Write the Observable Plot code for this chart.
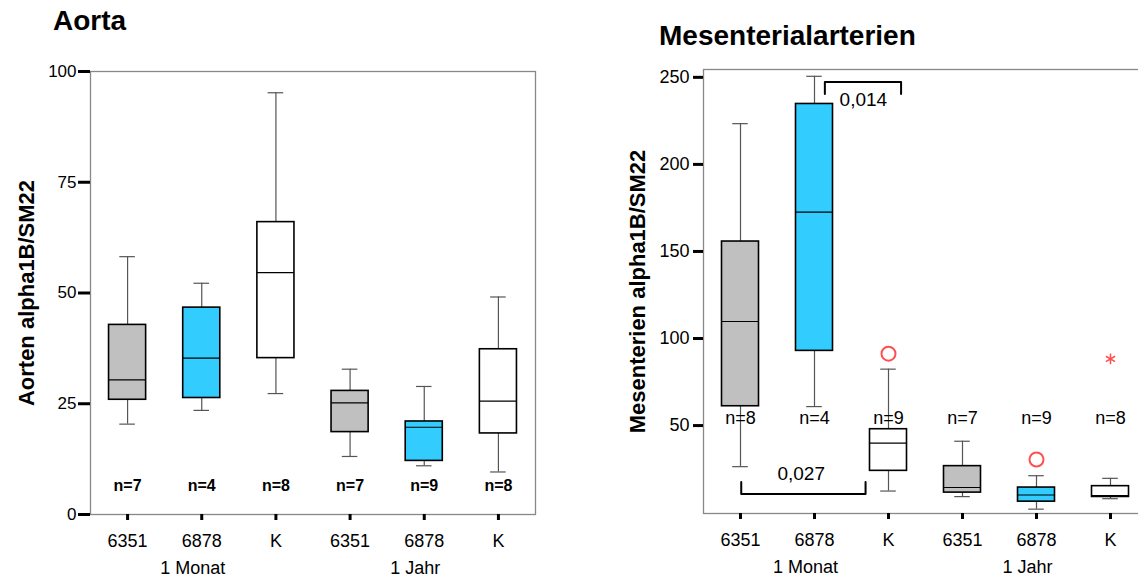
<!DOCTYPE html>
<html><head><meta charset="utf-8">
<script src="https://cdn.jsdelivr.net/npm/d3@7"></script>
<script src="https://cdn.jsdelivr.net/npm/@observablehq/plot@0.6"></script>
<style>
html,body{margin:0;padding:0;background:#fff;overflow:hidden;}
#wrap{position:relative;width:1138px;height:580px;overflow:hidden;font-family:"Liberation Sans",Arial,sans-serif;}
.title{position:absolute;font-weight:bold;font-size:28px;line-height:1;color:#000;white-space:nowrap;}
#left,#right{position:absolute;top:0;height:580px;}
#left{left:0;width:560px}
#right{left:560px;width:600px}
#left svg,#right svg{max-width:none !important;height:580px !important;display:block;}
</style></head><body>
<div id="wrap">
<div id="left"></div><div id="right"></div>
<div class="title" style="left:53px;top:7px">Aorta</div>
<div class="title" style="left:659px;top:22px">Mesenterialarterien</div>
</div>
<script>
// ---- categories ----
const strains = ["6351", "6878", "K", "6351", "6878", "K"];
const periods = ["1 Monat", "1 Jahr"];

// ---- Aorta (box plot statistics) ----
const aortaMin    = [20.4, 23.5, 27.3, 13.1, 11.0,  9.6];
const aortaQ1     = [25.9, 26.3, 35.3, 18.6, 12.1, 18.3];
const aortaMedian = [30.4, 35.3, 54.6, 25.2, 19.7, 25.6];
const aortaQ3     = [42.8, 46.7, 66.0, 27.9, 21.0, 37.3];
const aortaMax    = [58.2, 52.2, 95.2, 32.8, 28.9, 49.1];
const aortaN      = [7, 4, 8, 7, 9, 8];

// ---- Mesenterialarterien ----
const mesMin    = [ 26.4,  60.9, 12.4,  9.2,  2.0,  8.0];
const mesQ1     = [ 61.1,  92.9, 24.0, 11.5,  6.3,  9.0];
const mesMedian = [109.8, 172.6, 39.9, 14.4, 10.1,  9.8];
const mesQ3     = [155.7, 234.7, 47.9, 26.7, 14.4, 15.2];
const mesMax    = [223.4, 250.6, 82.4, 41.0, 21.2, 19.7];
const mesN      = [8, 4, 9, 7, 9, 8];
const mesOutlierGroup = [2, 4];
const mesOutlierValue = [91.3, 30.5];
const mesExtremeGroup = [5];
const mesExtremeValue = [88.3];

// ---- significance annotations (Mesenterialarterien) ----
const sigText  = ["0,014", "0,027"];
const sigFrom  = [1.14, 0.01];
const sigTo    = [2.17, 1.69];
const sigBar   = [247.3, 10.7];
const sigTip   = [240.4, 17.6];
const sigLabelX = [1.66, 0.82];
const sigLabelY = [237.0, 22.4];

const boxFill = {"6351": "#c0c0c0", "6878": "#33ccff", "K": "#ffffff"};
const HALF = 0.25, CAP = 0.105;
const FONT = "'Liberation Sans', Arial, sans-serif";

function rowsOf(mn, q1, md, q3, mx) {
  return strains.map((s, i) => ({i, strain: s, min: mn[i], q1: q1[i], med: md[i], q3: q3[i], max: mx[i]}));
}

function boxMarks(rows) {
  const w = {stroke: "#555", strokeWidth: 1.2};
  return [
    Plot.ruleX(rows, {x: "i", y1: "min", y2: "q1", ...w}),
    Plot.ruleX(rows, {x: "i", y1: "q3", y2: "max", ...w}),
    Plot.ruleY(rows, {y: "min", x1: d => d.i - CAP, x2: d => d.i + CAP, ...w}),
    Plot.ruleY(rows, {y: "max", x1: d => d.i - CAP, x2: d => d.i + CAP, ...w}),
    Plot.rect(rows, {x1: d => d.i - HALF, x2: d => d.i + HALF, y1: "q1", y2: "q3",
      fill: d => boxFill[d.strain], stroke: "#000", strokeWidth: 1.6}),
    Plot.ruleY(rows, {y: "med", x1: d => d.i - HALF, x2: d => d.i + HALF, stroke: "#000", strokeWidth: 1.1})
  ];
}

function xAxisMarks() {
  return [
    Plot.axisX({ticks: [0, 1, 2, 3, 4, 5], tickFormat: i => strains[i], tickSize: 6, tickPadding: 14,
      strokeWidth: 3, stroke: "#000", fill: "#000", fontSize: 18, label: null}),
    Plot.text(periods, {x: (d, k) => k * 3 + 1, frameAnchor: "bottom", dy: 59, dx: -9,
      fontSize: 18, fill: "#000"})
  ];
}

// ---- Left: Aorta ----
const aortaRows = rowsOf(aortaMin, aortaQ1, aortaMedian, aortaQ3, aortaMax);
const left = Plot.plot({
  width: 560, height: 580,
  marginLeft: 90, marginRight: 25, marginTop: 71, marginBottom: 66,
  style: {fontFamily: FONT, background: "transparent", color: "#000", overflow: "visible"},
  x: {domain: [-0.5, 5.5]},
  y: {domain: [0, 100]},
  color: {type: "identity"},
  marks: [
    Plot.frame({stroke: "#888", strokeWidth: 1.3}),
    ...boxMarks(aortaRows),
    Plot.text(aortaN, {x: (d, i) => i, frameAnchor: "bottom", dy: -24, text: d => "n=" + d,
      fontWeight: "bold", fontSize: 16, fill: "#000"}),
    Plot.axisY({ticks: [0, 25, 50, 75, 100], tickSize: 12, tickPadding: 2, strokeWidth: 3,
      stroke: "#000", fill: "#000", fontSize: 17, label: null}),
    ...xAxisMarks(),
    Plot.text(["Aorten alpha1B/SM22"], {frameAnchor: "left", rotate: -90, dx: -64, textAnchor: "middle",
      fontSize: 22, fontWeight: "bold", fill: "#000"})
  ]
});
document.getElementById("left").append(left);

// ---- Right: Mesenterialarterien ----
const mesRows = rowsOf(mesMin, mesQ1, mesMedian, mesQ3, mesMax);
const outliers = mesOutlierGroup.map((g, k) => ({i: g, v: mesOutlierValue[k]}));
const extremes = mesExtremeGroup.map((g, k) => ({i: g, v: mesExtremeValue[k]}));
const bracketPts = sigText.flatMap((t, k) => [
  {k, x: sigFrom[k], y: sigTip[k]},
  {k, x: sigFrom[k], y: sigBar[k]},
  {k, x: sigTo[k], y: sigBar[k]},
  {k, x: sigTo[k], y: sigTip[k]}
]);
const right = Plot.plot({
  width: 600, height: 580,
  marginLeft: 143, marginRight: 13, marginTop: 69, marginBottom: 67,
  style: {fontFamily: FONT, background: "transparent", color: "#000", overflow: "visible"},
  x: {domain: [-0.5, 5.5]},
  y: {domain: [-0.5, 254.5]},
  color: {type: "identity"},
  marks: [
    Plot.frame({stroke: "#888", strokeWidth: 1.3}),
    ...boxMarks(mesRows),
    Plot.dot(outliers, {x: "i", y: "v", r: 7, stroke: "#ff5050", strokeWidth: 2, fill: "none"}),
    Plot.dot(extremes, {x: "i", y: "v", symbol: "asterisk", r: 5, stroke: "#ff5050", strokeWidth: 1.5}),
    Plot.text(mesN, {x: (d, i) => i, frameAnchor: "bottom", dy: -90, text: d => "n=" + d,
      fontSize: 18, fill: "#000"}),
    Plot.line(bracketPts, {x: "x", y: "y", z: "k", stroke: "#000", strokeWidth: 2, curve: "linear"}),
    Plot.text(sigText, {x: (d, k) => sigLabelX[k], y: (d, k) => sigLabelY[k], text: d => d,
      fontSize: 19, fill: "#000"}),
    Plot.axisY({ticks: [50, 100, 150, 200, 250], tickSize: 10, tickPadding: 4, strokeWidth: 3,
      stroke: "#000", fill: "#000", fontSize: 18, label: null}),
    ...xAxisMarks(),
    Plot.text(["Mesenterien alpha1B/SM22"], {frameAnchor: "left", rotate: -90, dx: -66, textAnchor: "middle",
      fontSize: 22, fontWeight: "bold", fill: "#000"})
  ]
});
document.getElementById("right").append(right);
</script>
</body></html>
